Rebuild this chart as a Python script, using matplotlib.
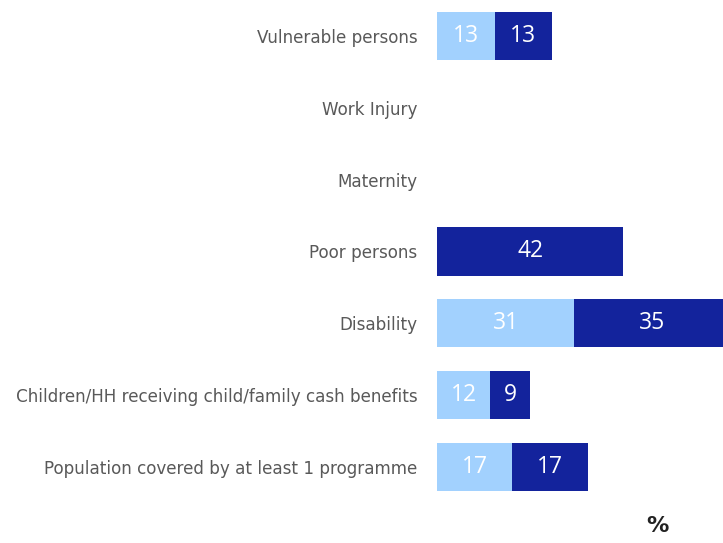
import matplotlib.pyplot as plt

categories = [
    'Vulnerable persons',
    'Work Injury',
    'Maternity',
    'Poor persons',
    'Disability',
    'Children/HH receiving child/family cash benefits',
    'Population covered by at least 1 programme',
]
light_values = [13, 0, 0, 0, 31, 12, 17]
dark_values = [13, 0, 0, 42, 35, 9, 17]

light_color = '#A2D1FE'
dark_color = '#13239C'

fig = plt.figure(figsize=(7.23, 5.43), dpi=100)
ax = fig.add_axes([0.6044, 0.0737, 0.3956, 0.9263])

y = list(range(len(categories)))
ax.barh(y, light_values, height=0.67, color=light_color)
ax.barh(y, dark_values, left=light_values, height=0.67, color=dark_color)

for i in y:
    lv, dv = light_values[i], dark_values[i]
    if lv > 0:
        ax.text(lv / 2, i, str(lv), ha='center', va='center',
                color='white', fontsize=16.5, family='Open Sans')
    if dv > 0:
        ax.text(lv + dv / 2, i, str(dv), ha='center', va='center',
                color='white', fontsize=16.5, family='Open Sans')

ax.set_yticks(y)
ax.set_yticklabels(categories, fontsize=12.1, color='#595959')
ax.tick_params(axis='y', length=0, pad=14)
ax.set_xticks([])
ax.set_xlim(0, 64.5)
ax.set_ylim(len(categories) - 0.5, -0.5)
for s in ax.spines.values():
    s.set_visible(False)

fig.text(0.91, 0.02, '%', fontsize=16, color='#222222',
         fontweight='bold', ha='center')

fig.savefig('out.png', dpi=100)
